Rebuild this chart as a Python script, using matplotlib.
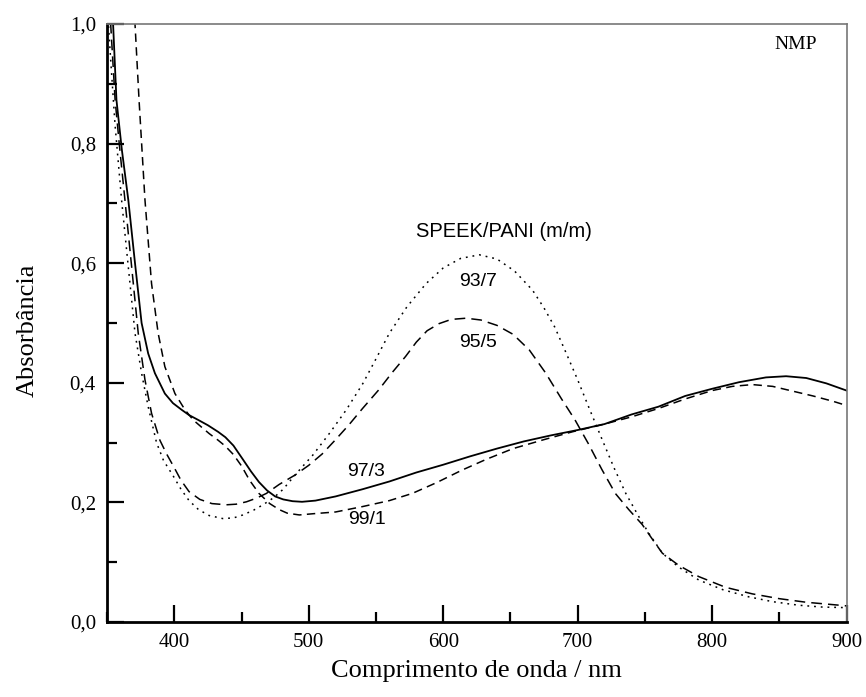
import matplotlib
matplotlib.use("Agg")
import matplotlib.pyplot as plt
from matplotlib.ticker import MultipleLocator, FuncFormatter

# SPEEK/PANI 97/3 (solid)
wl_97 = [353.5, 354.5, 357, 361, 365.8, 370.8, 375.7, 380.6, 385.6, 393, 399, 405.4, 411, 417.7,
         425, 432.6, 438, 444, 451, 457, 463, 469, 475, 481, 488, 495, 505, 520, 540, 560, 580,
         600, 620, 640, 660, 680, 700, 720, 740, 760, 780, 800, 820, 840, 855, 870, 885, 900]
abs_97 = [1.03, 1.0, 0.873, 0.79, 0.706, 0.60, 0.50, 0.449, 0.416, 0.382, 0.366, 0.355, 0.346,
          0.338, 0.329, 0.318, 0.309, 0.295, 0.272, 0.252, 0.234, 0.220, 0.210, 0.205, 0.202, 0.201,
          0.203, 0.210, 0.222, 0.235, 0.250, 0.263, 0.277, 0.290, 0.302, 0.312, 0.321, 0.331, 0.347,
          0.360, 0.378, 0.390, 0.401, 0.409, 0.411, 0.408, 0.399, 0.387]

# SPEEK/PANI 99/1 (dashed, follows 97/3 at long wavelengths)
wl_99 = [370, 370.8, 373.8, 378.2, 383.1, 388, 393, 400.5, 407.9, 414, 420.2, 426, 432.6, 438, 444,
         450, 456, 463, 471, 478, 484, 493, 503, 520, 540, 560, 577, 595, 614, 632, 652, 675, 696,
         720, 740, 760, 780, 800, 815, 830, 845, 860, 875, 890, 900]
abs_99 = [1.03, 1.0, 0.873, 0.706, 0.566, 0.483, 0.427, 0.382, 0.355, 0.338, 0.326, 0.315, 0.304,
          0.294, 0.280, 0.261, 0.237, 0.215, 0.198, 0.188, 0.182, 0.179, 0.181, 0.184, 0.193, 0.203,
          0.215, 0.233, 0.254, 0.272, 0.290, 0.305, 0.318, 0.331, 0.343, 0.357, 0.373, 0.387, 0.394,
          0.397, 0.394, 0.386, 0.378, 0.369, 0.362]

# SPEEK/PANI 95/5 (dashed, long dashes)
wl_95 = [352, 352.7, 356, 359.5, 363.3, 368.3, 373.2, 378.2, 383.1, 389.3, 394.3, 400, 405, 411,
         419, 428, 438.8, 446, 453.7, 461, 468.5, 478, 490, 500, 510, 520, 530, 540, 552, 562, 572,
         580, 588, 597, 606, 617, 628, 640, 652, 664, 676, 688, 698, 708, 718, 728, 738, 748, 756,
         763, 775, 790, 810, 830, 850, 870, 885, 900]
abs_95 = [1.03, 1.0, 0.873, 0.79, 0.706, 0.594, 0.483, 0.405, 0.349, 0.304, 0.281, 0.258, 0.237,
          0.218, 0.205, 0.198, 0.196, 0.197, 0.201, 0.207, 0.215, 0.230, 0.246, 0.262, 0.281, 0.305,
          0.330, 0.357, 0.388, 0.417, 0.444, 0.468, 0.487, 0.499, 0.506, 0.508, 0.505, 0.496, 0.481,
          0.455, 0.417, 0.373, 0.338, 0.298, 0.255, 0.215, 0.188, 0.163, 0.137, 0.115, 0.095, 0.076,
          0.058, 0.047, 0.039, 0.033, 0.030, 0.027]

# SPEEK/PANI 93/7 (dotted)
wl_93 = [350.5, 351, 353, 356, 360.8, 365.8, 370.8, 375.7, 380.6, 386.8, 392, 399, 405, 411, 418,
         426, 436, 444, 451, 459, 466, 474, 481, 488, 495, 503, 515.6, 528, 540.3, 550, 560, 573,
         587.3, 600, 613, 626.9, 640, 653, 666.4, 675, 683, 691, 700, 709, 718.4, 727, 735.8, 745,
         753, 763, 775, 790.2, 808, 827.4, 845, 864.6, 882, 900]
abs_93 = [1.03, 1.0, 0.93, 0.83, 0.706, 0.594, 0.483, 0.416, 0.36, 0.30, 0.27, 0.245, 0.222, 0.203,
          0.188, 0.178, 0.173, 0.174, 0.179, 0.187, 0.196, 0.208, 0.222, 0.241, 0.259, 0.279, 0.316,
          0.355, 0.399, 0.440, 0.483, 0.527, 0.566, 0.592, 0.608, 0.614, 0.607, 0.587, 0.555, 0.525,
          0.493, 0.452, 0.405, 0.355, 0.304, 0.258, 0.215, 0.178, 0.148, 0.115, 0.092, 0.070, 0.054,
          0.042, 0.034, 0.028, 0.025, 0.024]

serif = "Liberation Serif"
sans = "Liberation Sans"

fig = plt.figure(figsize=(8.66, 6.97), dpi=100)
ax = fig.add_axes([0.1236, 0.1076, 0.854, 0.858])

lw = 1.1
ax.plot(wl_97, abs_97, color="black", lw=1.3, ls="-")
ax.plot(wl_99, abs_99, color="black", lw=lw, ls=(0, (5.5, 3.5)))
ax.plot(wl_95, abs_95, color="black", lw=lw, ls=(0, (7, 4)))
ax.plot(wl_93, abs_93, color="black", lw=lw, ls=(0, (1.2, 3.2)))

ax.set_xlim(350, 900)
ax.set_ylim(0, 1.0)

ax.xaxis.set_major_locator(MultipleLocator(100))
ax.xaxis.set_minor_locator(MultipleLocator(50))
ax.yaxis.set_major_locator(MultipleLocator(0.2))
ax.yaxis.set_minor_locator(MultipleLocator(0.1))
ax.yaxis.set_major_formatter(FuncFormatter(lambda v, p: f"{v:.1f}".replace(".", ",")))

ax.tick_params(which="both", direction="in", top=False, right=False, width=1.6)
ax.tick_params(which="major", length=12, labelsize=15, pad=8)
ax.tick_params(which="minor", length=7)
for lab in ax.get_xticklabels() + ax.get_yticklabels():
    lab.set_fontfamily(serif)

ax.spines["left"].set_linewidth(2)
ax.spines["bottom"].set_linewidth(2)
ax.spines["top"].set_linewidth(1.2)
ax.spines["right"].set_linewidth(1.2)
ax.spines["top"].set_color("#777777")
ax.spines["right"].set_color("#777777")

ax.set_xlabel("Comprimento de onda / nm", fontfamily=serif, fontsize=19, labelpad=6)
ax.set_ylabel("Absorbância", fontfamily=serif, fontsize=19, labelpad=18)
ax.yaxis.set_label_coords(-0.093, 0.488)

ax.text(862, 0.965, "NMP", fontfamily=serif, fontsize=14, ha="center", va="center")
ax.text(645, 0.653, "SPEEK/PANI (m/m)", fontfamily=sans, fontsize=14.5, ha="center", va="center")
ax.text(626, 0.569, "93/7", fontfamily=sans, fontsize=14, ha="center", va="center")
ax.text(626, 0.468, "95/5", fontfamily=sans, fontsize=14, ha="center", va="center")
ax.text(543, 0.251, "97/3", fontfamily=sans, fontsize=14, ha="center", va="center")
ax.text(543, 0.172, "99/1", fontfamily=sans, fontsize=14, ha="center", va="center")

fig.savefig("out.png", dpi=100)
